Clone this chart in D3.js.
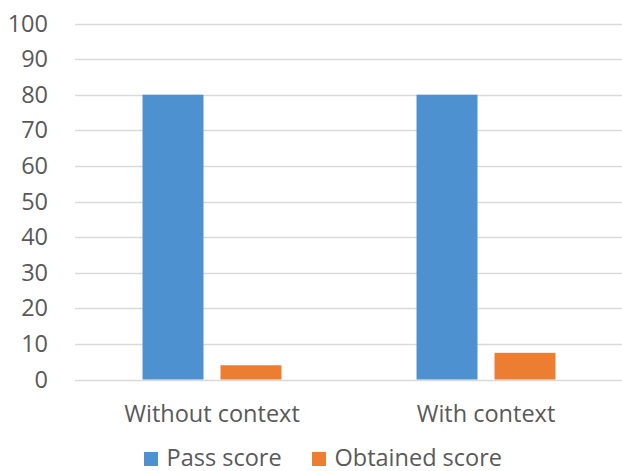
<!DOCTYPE html>
<html>
<head>
<meta charset="utf-8">
<script src="https://cdn.jsdelivr.net/npm/d3@7"></script>
<style>
  body { margin: 0; background: #fff; }
  text { font-family: "Open Sans", sans-serif; fill: #595959; }
</style>
</head>
<body>
<svg></svg>
<script>
let categories = ['Without context', 'With context']
let seriesNames = ['Pass score', 'Obtained score']
let passScore = [80, 80]
let obtainedScore = [4, 7.5]
let yTicks = [0, 10, 20, 30, 40, 50, 60, 70, 80, 90, 100]
let colors = ['#4e91d0', '#ed7d31']

let width = 622
let height = 471
let plotLeft = 75
let plotRight = 623
let plotTop = 23.5
let plotBottom = 379.5
let fontSize = '23.5px'

let svg = d3.select('svg').attr('width', width).attr('height', height)

let xScale = d3.scaleBand().domain(categories).range([plotLeft, plotRight])
let xInner = d3.scaleBand().domain(seriesNames).range([0, xScale.bandwidth()]).paddingInner(0.218).paddingOuter(0.866)
let yScale = d3.scaleLinear().domain([0, 100]).range([plotBottom, plotTop])

// gridlines
svg.append('g')
   .selectAll('line')
   .data(yTicks)
   .enter()
   .append('line')
   .attr('x1', plotLeft)
   .attr('x2', plotRight)
   .attr('y1', (d) => Math.round(yScale(d)) + 0.5)
   .attr('y2', (d) => Math.round(yScale(d)) + 0.5)
   .attr('stroke', '#d9d9d9')
   .attr('stroke-width', 1.3)

// y labels
let yAxis = d3.axisLeft(yScale).tickValues(yTicks).tickSize(0).tickPadding(0)
let yg = svg.append('g')
   .attr('transform', 'translate(48, 0)')
   .call(yAxis)
yg.select('.domain').remove()
yg.selectAll('text').style('font-size', fontSize).attr('fill', '#595959')

let rows = categories.map((c, i) => ({cat: c, values: [passScore[i], obtainedScore[i]]}))

let groups = svg.selectAll('.grp')
   .data(rows)
   .enter()
   .append('g')
   .attr('class', 'grp')
   .attr('transform', (d) => 'translate(' + xScale(d.cat) + ',0)')

groups.selectAll('rect')
   .data((d) => d.values.map((v, j) => ({name: seriesNames[j], value: v, idx: j})))
   .enter()
   .append('rect')
   .attr('x', (d) => xInner(d.name))
   .attr('width', xInner.bandwidth())
   .attr('y', (d) => yScale(d.value))
   .attr('height', (d) => yScale(0) - yScale(d.value))
   .attr('fill', (d) => colors[d.idx])

// x labels
let xAxis = d3.axisBottom(xScale).tickSize(0).tickPadding(0)
let xg = svg.append('g')
   .call(xAxis)
xg.select('.domain').remove()
xg.selectAll('text')
  .attr('y', 422)
  .attr('dy', null)
  .style('font-size', fontSize)
  .attr('fill', '#595959')

// legend
let legendX = [144, 312]
let legend = svg.selectAll('.leg')
   .data(seriesNames)
   .enter()
   .append('g')
   .attr('class', 'leg')
   .attr('transform', (d, i) => 'translate(' + legendX[i] + ', 452)')
legend.append('rect')
   .attr('width', 14)
   .attr('height', 14)
   .attr('fill', (d, i) => colors[i])
legend.append('text')
   .attr('x', 22.5)
   .attr('y', 14)
   .style('font-size', fontSize)
   .text((d) => d)
</script>
</body>
</html>
